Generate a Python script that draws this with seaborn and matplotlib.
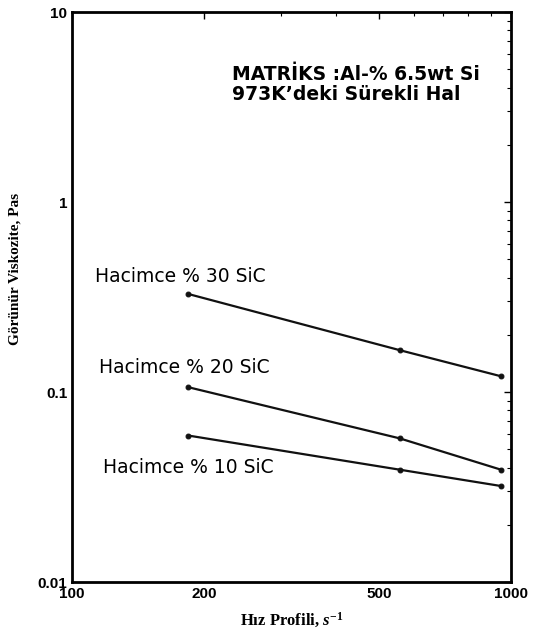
import numpy as np
import pandas as pd
import matplotlib
matplotlib.use("Agg")
import matplotlib.pyplot as plt
import seaborn as sns

shear_rate = [184, 558, 949]
visc_30 = [0.328, 0.166, 0.121]
visc_20 = [0.106, 0.057, 0.039]
visc_10 = [0.059, 0.039, 0.032]
series_names = ["Hacimce % 30 SiC", "Hacimce % 20 SiC", "Hacimce % 10 SiC"]
x_ticks = [100, 200, 500, 1000]
x_ticklabels = ["100", "200", "500", "1000"]
y_ticks = [0.01, 0.1, 1, 10]
y_ticklabels = ["0.01", "0.1", "1", "10"]
note_lines = ["MATRİKS :Al-% 6.5wt Si", "973K’deki Sürekli Hal"]

df = pd.concat([
    pd.DataFrame({"x": shear_rate, "y": v, "s": n})
    for v, n in zip([visc_30, visc_20, visc_10], series_names)
])

sns.set_style("white")
plt.rcParams['font.family'] = ['Liberation Sans', 'DejaVu Sans']
plt.rcParams['text.color'] = 'black'
plt.rcParams['axes.labelcolor'] = 'black'
plt.rcParams['xtick.color'] = 'black'
plt.rcParams['ytick.color'] = 'black'
plt.rcParams['mathtext.fontset'] = 'custom'
plt.rcParams['mathtext.it'] = 'Liberation Serif:italic:bold'
plt.rcParams['mathtext.rm'] = 'Liberation Serif:bold'
plt.rcParams['mathtext.bf'] = 'Liberation Serif:bold'

fig = plt.figure(figsize=(5.34, 6.44), dpi=100)
ax = fig.add_axes([72/534, 1-582/644, (511-72)/534, (582-12)/644])

sns.lineplot(data=df, x="x", y="y", hue="s", palette=["#111111"]*3,
             marker="o", markersize=3.5, markeredgecolor="#111111",
             linewidth=1.6, legend=False, ax=ax)
ax.set_xscale("log")
ax.set_yscale("log")
ax.set_xlim(100, 1000)
ax.set_ylim(0.01, 10)

ax.set_xticks(x_ticks)
ax.set_xticklabels(x_ticklabels, fontsize=11, fontweight="bold")
ax.set_yticks(y_ticks)
ax.set_yticklabels(y_ticklabels, fontsize=11, fontweight="bold")
ax.tick_params(which="both", direction="in", top=True, right=True, color="black")
ax.tick_params(which="major", length=5, width=1)
ax.tick_params(which="minor", length=3, width=0.8)
ax.tick_params(axis="x", which="minor", labelbottom=False)
for sp in ax.spines.values():
    sp.set_color("black")
    sp.set_linewidth(2)

ax.set_xlabel("Hız Profili, $s^{\\mathbf{-1}}$", family="Liberation Serif",
              fontweight="bold", fontsize=12, labelpad=7)
ax.set_ylabel("Görünür Viskozite, Pas", family="Liberation Serif",
              fontweight="bold", fontsize=11, labelpad=14)
ax.yaxis.set_label_coords(-0.115, 0.55)

for line, ly in zip(note_lines, [0.881, 0.846]):
    ax.text(0.364, ly, line, transform=ax.transAxes, fontsize=13.5,
            fontweight="bold", va="baseline", family="DejaVu Sans")

label_pos = [(0.052, 0.526), (0.061, 0.367), (0.070, 0.191)]
for name, (lx, ly) in zip(series_names, label_pos):
    ax.text(lx, ly, name, transform=ax.transAxes, fontsize=13.5,
            family="DejaVu Sans", va="baseline")

fig.savefig("out.png", dpi=100)
